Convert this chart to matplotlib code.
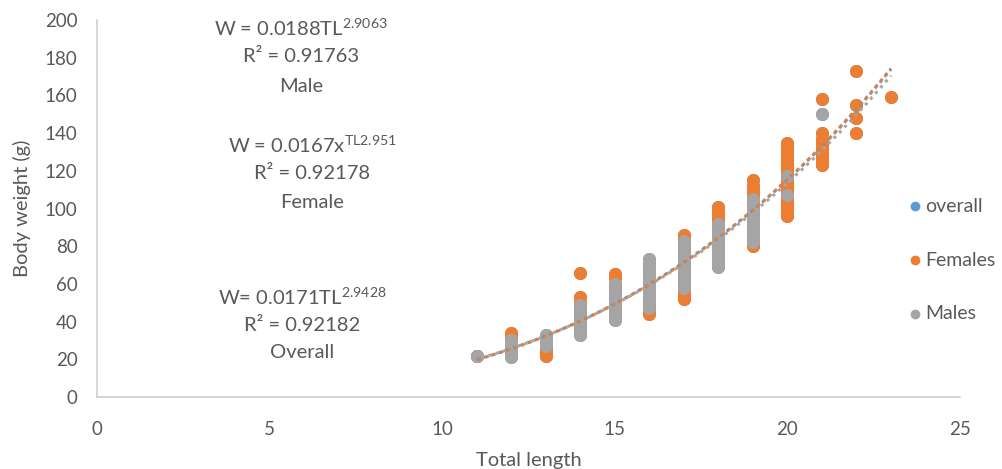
import matplotlib
matplotlib.use("Agg")
import matplotlib.pyplot as plt
import numpy as np

# ---------------- data ----------------
female_tl = [11,
             12, 12, 12, 12, 12, 12, 12,
             13, 13, 13, 13, 13, 13,
             14, 14, 14, 14, 14, 14, 14, 14,
             15, 15, 15, 15, 15, 15,
             16, 16, 16, 16, 16,
             17, 17, 17, 17, 17, 17, 17, 17, 17, 17, 17, 17, 17, 17, 17, 17, 17, 17,
             18, 18, 18, 18, 18, 18, 18, 18, 18, 18, 18, 18, 18, 18, 18,
             19, 19, 19, 19, 19, 19, 19, 19, 19, 19, 19, 19, 19, 19, 19, 19, 19, 19,
             20, 20, 20, 20, 20, 20, 20, 20, 20, 20, 20, 20, 20, 20, 20, 20, 20, 20, 20, 20,
             21, 21, 21, 21, 21, 21, 21, 21, 21, 21,
             22, 22, 22, 22,
             23]
female_w = [22,
            22, 24, 26, 28, 30, 32, 34,
            22, 24, 26, 28, 30, 32,
            40, 42, 44, 46, 48, 50, 53, 66,
            44, 48, 52, 58, 63, 65,
            44, 46, 48, 50, 53,
            52, 54, 56, 58, 60, 62, 64, 66, 68, 70, 72, 74, 76, 78, 80, 82, 84, 86,
            72, 74, 76, 78, 80, 82, 84, 86, 88, 90, 92, 94, 96, 98, 101,
            80, 82, 84, 86, 88, 90, 92, 94, 96, 98, 100, 102, 104, 106, 108, 110, 112, 115,
            96, 98, 100, 102, 104, 106, 108, 110, 112, 114, 116, 118, 120, 122, 124, 126, 128, 130, 132, 135,
            123, 125, 127, 129, 131, 133, 135, 137, 140, 158,
            140, 148, 155, 173,
            159]

male_tl = [11,
           12, 12, 12, 12, 12, 12,
           13, 13, 13, 13,
           14, 14, 14, 14, 14, 14, 14, 14, 14,
           15, 15, 15, 15, 15, 15, 15, 15, 15, 15,
           16, 16, 16, 16, 16, 16, 16, 16, 16, 16, 16, 16, 16, 16,
           17, 17, 17, 17, 17, 17, 17, 17, 17, 17, 17, 17, 17,
           18, 18, 18, 18, 18, 18, 18, 18, 18, 18, 18, 18,
           19, 19, 19, 19, 19, 19, 19, 19, 19, 19, 19, 19,
           20, 20,
           21]
male_w = [22,
          21, 23, 25, 27, 29, 30,
          27, 29, 31, 33,
          33, 35, 37, 39, 41, 43, 45, 47, 49,
          41, 43, 45, 47, 49, 51, 53, 55, 57, 60,
          47, 49, 51, 53, 55, 57, 59, 61, 63, 65, 67, 69, 71, 73,
          58, 60, 62, 64, 66, 68, 70, 72, 74, 76, 78, 80, 83,
          69, 71, 73, 75, 77, 79, 81, 83, 85, 87, 89, 92,
          82, 84, 86, 88, 90, 92, 94, 96, 98, 100, 102, 105,
          107, 117,
          150]

overall_tl = female_tl + male_tl
overall_w = female_w + male_w

# power-law fits shown on the chart (a, b)
fit_overall = (0.0171, 2.9428)
fit_female = (0.0167, 2.951)
fit_male = (0.0188, 2.9063)

series_names = ["overall", "Females", "Males"]
x_ticks = [0, 5, 10, 15, 20, 25]
y_ticks = [0, 20, 40, 60, 80, 100, 120, 140, 160, 180, 200]

# ---------------- style ----------------
FONT = "Lato"
TXT = "#595959"
BLUE = "#5B9BD5"
ORANGE = "#ED7D31"
GRAY = "#A5A5A5"

plt.rcParams["font.family"] = [FONT, "DejaVu Sans"]
plt.rcParams["mathtext.fontset"] = "custom"
plt.rcParams["mathtext.rm"] = FONT
plt.rcParams["mathtext.it"] = FONT
plt.rcParams["mathtext.bf"] = FONT

fig = plt.figure(figsize=(10.03, 4.69), dpi=100)
ax = fig.add_axes([97 / 1003, 1 - 397 / 469, (960 - 97) / 1003, (397 - 20) / 469])

ms = 88
ax.scatter(overall_tl, overall_w, s=ms, color=BLUE, label=series_names[0], zorder=2, linewidths=0)
ax.scatter(female_tl, female_w, s=ms, color=ORANGE, label=series_names[1], zorder=3, linewidths=0)
ax.scatter(male_tl, male_w, s=ms, color=GRAY, label=series_names[2], zorder=4, linewidths=0)

xx = np.linspace(11, 23, 200)
for (a, b), col, dash_off in [(fit_overall, BLUE, 0), (fit_male, GRAY, 1), (fit_female, ORANGE, 2)]:
    ax.plot(xx, a * xx ** b, color=col, lw=2.2, linestyle=(dash_off, (1, 1.5)), zorder=5)

ax.set_xlim(0, 25)
ax.set_ylim(0, 200)
ax.set_xticks(x_ticks)
ax.set_yticks(y_ticks)
ax.tick_params(length=0, labelsize=13.5, colors=TXT)
ax.tick_params(axis="y", pad=14)
ax.tick_params(axis="x", pad=17)
for s in ["top", "right"]:
    ax.spines[s].set_visible(False)
for s in ["left", "bottom"]:
    ax.spines[s].set_color("#D0D0D0")
    ax.spines[s].set_linewidth(1.2)

ax.set_xlabel("Total length", fontsize=14.5, color=TXT, labelpad=10)
ax.set_ylabel("Body weight (g)", fontsize=14.5, color=TXT, labelpad=10)

# annotations
def block(cx, ys, lines):
    for y, t in zip(ys, lines):
        fig.text(cx / 1003, 1 - y / 469, t, ha="center", va="center", fontsize=14.5, color=TXT)

block(301, [28, 57, 86], [r"W = 0.0188TL$^{\mathrm{2.9063}}$", "R² = 0.91763", "Male"])
block(312, [145, 173, 202], [r"W = 0.0167x$^{\mathrm{TL2.951}}$", "R² = 0.92178", "Female"])
block(302, [297, 325, 353], [r"W= 0.0171TL$^{\mathrm{2.9428}}$", "R² = 0.92182", "Overall"])

leg = fig.legend(loc="center left", bbox_to_anchor=(896 / 1003, 1 - 260 / 469), frameon=False,
                 fontsize=14, labelspacing=1.9, handletextpad=0.0, handlelength=1.0,
                 markerscale=0.75, labelcolor=TXT, borderpad=0)

fig.savefig("out.png", dpi=100, facecolor="white")
